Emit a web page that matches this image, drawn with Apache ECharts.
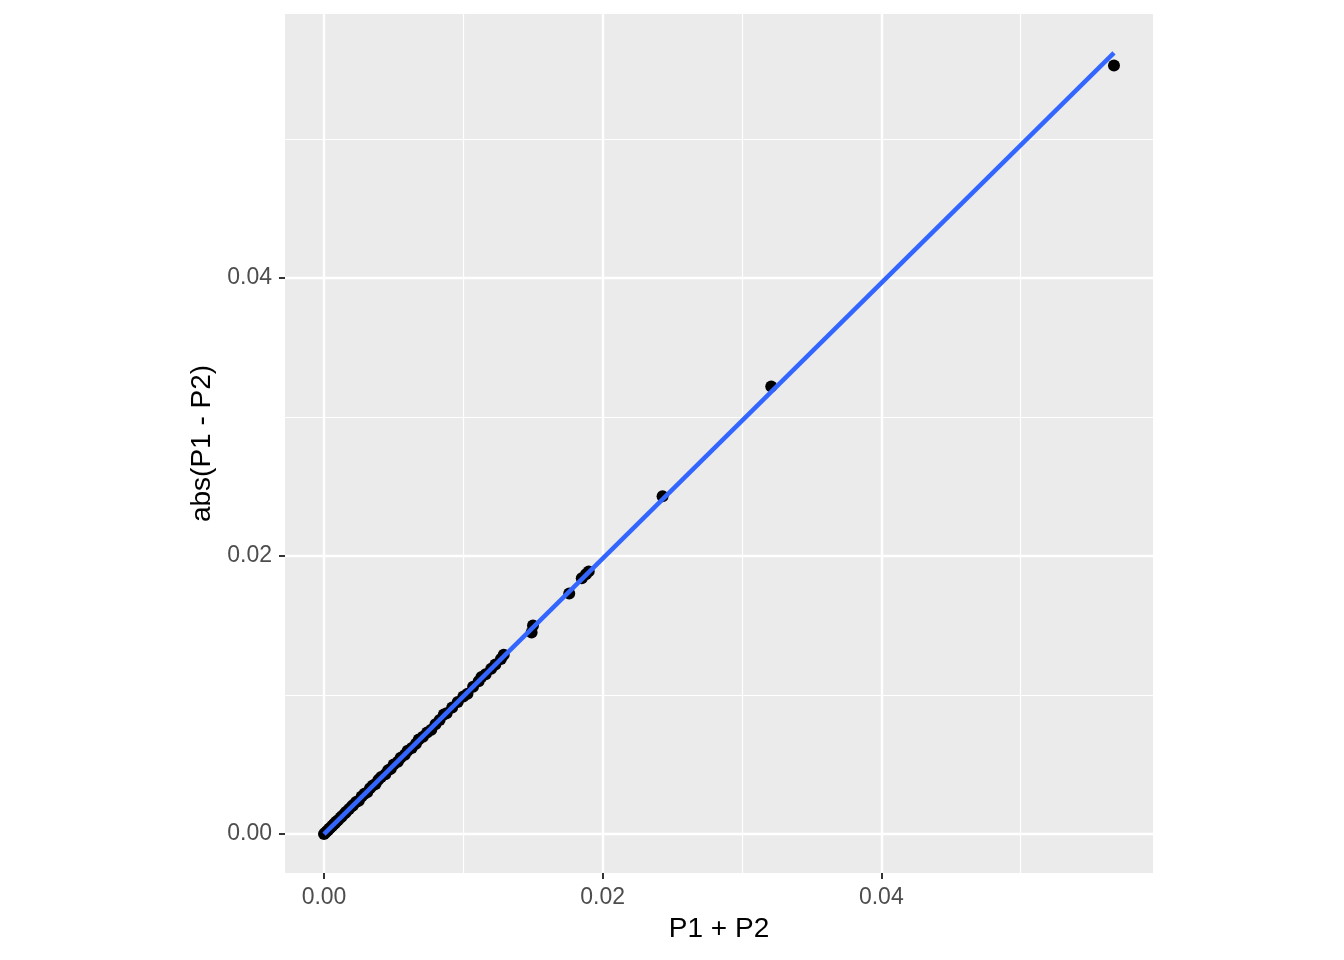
<!DOCTYPE html>
<html>
<head>
<meta charset="utf-8">
<title>abs(P1 - P2) vs P1 + P2</title>
<script src="https://cdn.jsdelivr.net/npm/echarts@6/dist/echarts.min.js"></script>
<style>
    html, body { margin: 0; padding: 0; background: #fff; }
    #chart { width: 1344px; height: 960px; }
</style>
</head>
<body>
<div id="chart"></div>
<script>
// tick positions (major get labels, minor only grid lines)
const xTicks = [0, 0.02, 0.04];
const yTicks = [0, 0.02, 0.04];
const xMinor = [0.01, 0.03, 0.05];
const yMinor = [0.01, 0.03, 0.05];

// points: x = P1 + P2, y = abs(P1 - P2)
const sumP = [
    0, 0.0001, 0.0002, 0.0003, 0.0004, 0.0005, 0.0006, 0.0007, 0.0008, 0.0009,
    0.0010, 0.0012, 0.0013, 0.0015, 0.0016, 0.0018, 0.0020, 0.0021, 0.0023, 0.0025,
    0.0027, 0.0029, 0.0031, 0.0033, 0.0035, 0.0037, 0.0039, 0.0041, 0.0044, 0.0046,
    0.0048, 0.0050, 0.0053, 0.0055, 0.0058, 0.0060, 0.0063, 0.0066, 0.0068, 0.0071,
    0.0074, 0.0077, 0.0080, 0.0083, 0.0086, 0.0088, 0.0092, 0.0096, 0.0100, 0.0103,
    0.0107, 0.0111, 0.0113, 0.0116, 0.0120, 0.0123, 0.0127, 0.0129, 0.0149, 0.0150,
    0.0176, 0.0185, 0.0188, 0.0190, 0.0243, 0.0321, 0.0567
];
const absDiff = [
    0, 0.0001, 0.0002, 0.0003, 0.0004, 0.0005, 0.0006, 0.0007, 0.0008, 0.0009,
    0.0010, 0.0012, 0.0013, 0.0015, 0.0016, 0.0018, 0.0020, 0.0021, 0.0023, 0.0024,
    0.0027, 0.0029, 0.0030, 0.0033, 0.0035, 0.0036, 0.0039, 0.0041, 0.0043, 0.0046,
    0.0047, 0.0050, 0.0052, 0.0055, 0.0057, 0.0060, 0.0062, 0.0065, 0.0068, 0.0070,
    0.0073, 0.0075, 0.0079, 0.0082, 0.0086, 0.0087, 0.0091, 0.0095, 0.0099, 0.0101,
    0.0106, 0.0110, 0.0113, 0.0115, 0.0119, 0.0122, 0.0126, 0.0129, 0.0145, 0.0150,
    0.0173, 0.0184, 0.0187, 0.0189, 0.0243, 0.0322, 0.0553
];

// fitted line end points (lm smooth)
const fitX = [0, 0.0567];
const fitY = [0, 0.0562];

const chart = echarts.init(document.getElementById("chart"), null, { renderer: "canvas" });

const font = "Liberation Sans, Arimo, Helvetica, Arial, sans-serif";

const gridLines = [];
xTicks.forEach(v => gridLines.push({ xAxis: v, lineStyle: { width: 2.4 } }));
yTicks.forEach(v => gridLines.push({ yAxis: v, lineStyle: { width: 2.4 } }));
xMinor.forEach(v => gridLines.push({ xAxis: v, lineStyle: { width: 1.2 } }));
yMinor.forEach(v => gridLines.push({ yAxis: v, lineStyle: { width: 1.2 } }));

const axisCommon = {
    type: "value",
    nameLocation: "middle",
    nameTextStyle: { color: "#000", fontSize: 28, fontFamily: font },
    axisLine: { show: false, onZero: false },
    splitLine: { show: false },
    axisTick: {
        show: true,
        length: 6,
        lineStyle: { color: "#333333", width: 2 },
    },
    axisLabel: {
        color: "#4D4D4D",
        fontSize: 23,
        fontFamily: font,
        margin: 13,
        formatter: v => v.toFixed(2),
    },
};

chart.setOption({
    animation: false,
    backgroundColor: "#fff",
    grid: {
        left: 285,
        top: 14,
        width: 868,
        height: 859,
        show: true,
        backgroundColor: "#EBEBEB",
        borderWidth: 0,
        containLabel: false,
        outerBoundsMode: "none",
    },
    xAxis: Object.assign({}, axisCommon, {
        name: "P1 + P2",
        nameGap: 42,
        min: -0.0028,
        max: 0.0595,
        axisTick: Object.assign({}, axisCommon.axisTick, { customValues: xTicks }),
        axisLabel: Object.assign({}, axisCommon.axisLabel, { customValues: xTicks }),
    }),
    yAxis: Object.assign({}, axisCommon, {
        name: "abs(P1 - P2)",
        nameGap: 62,
        nameRotate: 90,
        min: -0.0028,
        max: 0.059,
        axisTick: Object.assign({}, axisCommon.axisTick, { customValues: yTicks }),
        axisLabel: Object.assign({}, axisCommon.axisLabel, { customValues: yTicks }),
    }),
    series: [
        {
            // panel grid lines
            type: "scatter",
            data: [],
            z: 1,
            silent: true,
            markLine: {
                z: 1,
                silent: true,
                symbol: "none",
                label: { show: false },
                lineStyle: { color: "#FFFFFF", type: "solid" },
                emphasis: { disabled: true },
                data: gridLines,
            },
        },
        {
            type: "scatter",
            z: 3,
            symbol: "circle",
            symbolSize: 12,
            itemStyle: { color: "#000", opacity: 1 },
            data: sumP.map((x, i) => [x, absDiff[i]]),
        },
        {
            type: "line",
            z: 4,
            showSymbol: false,
            symbol: "none",
            lineStyle: { color: "#3366FF", width: 4.5 },
            data: fitX.map((x, i) => [x, fitY[i]]),
        },
    ],
});
</script>
</body>
</html>
